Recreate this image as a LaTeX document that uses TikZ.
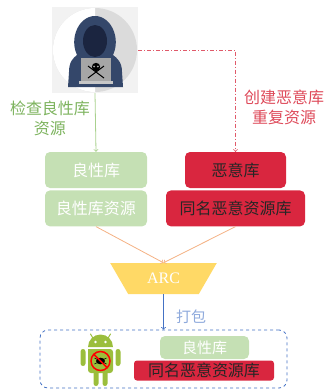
\documentclass[tikz,border=0pt]{standalone}
\usepackage{fontspec}
\setmainfont{Liberation Serif}
\newfontfamily\cjk{Noto Sans CJK SC}
\usetikzlibrary{positioning, arrows, shapes.geometric}

\definecolor{goodfill}{HTML}{C5E0B4}
\definecolor{goodline}{HTML}{A9D18E}
\definecolor{goodtext}{HTML}{7DB35E}
\definecolor{badfill}{HTML}{D9263F}
\definecolor{badline}{HTML}{E05A6A}
\definecolor{badtext}{HTML}{DE4A5A}
\definecolor{mergeline}{HTML}{F4B183}
\definecolor{arcfill}{HTML}{FFD966}
\definecolor{packline}{HTML}{4472C4}
\definecolor{packtext}{HTML}{8FAADC}
\definecolor{hoodcol}{HTML}{34476A}
\definecolor{facecol}{HTML}{1B2540}
\definecolor{droidcol}{HTML}{9BBE3C}

\begin{document}
\begin{tikzpicture}[x=1pt, y=-1pt,
    libbox/.style = {shape=rectangle, rounded corners=5pt, align=center,
    inner sep=0pt, font=\cjk\fontsize{16}{18}\selectfont},
    goodbox/.style = {libbox, fill=goodfill, text=white},
    badbox/.style = {libbox, fill=badfill, text=black!85},
    tag/.style = {align=center, font=\cjk\fontsize{16}{20}\selectfont},
    line/.style={draw, ->, line width=0.8pt}]

  \useasboundingbox (0,0) rectangle (327,389);

  % attacker
  \node[minimum size=86pt, inner sep=0pt, fill=black!5] (hacker) at (95,50) {};
  \begin{scope}[shift={(hacker.center)}]
    \fill[black!14] (0,0) circle[radius=42];
    \fill[white] (0,42) arc[start angle=90, end angle=270, radius=42] -- cycle;
    \fill[hoodcol] (-27,37) -- (-26,22) .. controls (-26,12) and (-22,8) .. (-18,5)
      .. controls (-26,-12) and (-16,-34) .. (0,-34)
      .. controls (16,-34) and (26,-12) .. (18,5)
      .. controls (22,8) and (27,12) .. (27,22) -- (28,37) -- cycle;
    \fill[facecol] (0,-9) ellipse[x radius=12, y radius=16];
    \fill[black!35] (-14,8) rectangle (16,31);
    \fill[black!22] (-16,31) rectangle (18,34);
    % skull and bones
    \draw[black, line width=1pt] (-7,16) -- (9,28) (9,16) -- (-7,28);
    \fill[black] (1,17) circle[radius=4.2];
    \fill[black!35] (-0.8,16.5) circle[radius=1] (2.8,16.5) circle[radius=1];
  \end{scope}

  % libraries
  \node[goodbox, minimum width=102pt, minimum height=36pt] (good) at (96,170) {良性库};
  \node[goodbox, minimum width=102pt, minimum height=36pt, below=2pt of good] (goodres) {良性库资源};
  \node[badbox, minimum width=101pt, minimum height=36pt] (bad) at (235.5,170) {恶意库};
  \node[badbox, minimum width=139pt, minimum height=36pt, below=2pt of bad] (badres) {同名恶意资源库};

  \node[tag, text=goodtext] (checktag) at (50,118) {检查良性库\\资源};
  \node[tag, text=badtext] (maketag) at (284,107) {创建恶意库\\重复资源};

  \draw[line, goodline] (hacker.south) -- (good.north);
  \draw[line, badline, dash pattern=on 4pt off 2pt on 1pt off 2pt]
    (hacker.east) -| (bad.north);

  % compiler
  \node[trapezium, shape border rotate=180, trapezium angle=60, fill=arcfill,
    trapezium stretches=true, minimum width=107pt, minimum height=31pt,
    text=white, font=\fontsize{16}{18}\selectfont] (arc) at (163.5,278.5) {ARC};

  \draw[line, mergeline] (goodres.south) -- (arc.north);
  \draw[line, mergeline] (badres.south) -- (arc.north);

  % package
  \node[draw=packline, dashed, rounded corners=8pt, line width=0.8pt,
    minimum width=247pt, minimum height=58pt] (apk) at (163.5,359) {};
  \draw[line, packline] (arc.south) -- (apk.north);
  \node[font=\cjk\fontsize{15}{18}\selectfont, text=packtext] (packtag) at (191,317) {打包};

  \node[goodbox, minimum width=89pt, minimum height=23pt,
    font=\cjk\fontsize{15}{18}\selectfont] (apkgood) at (204.5,347.5) {良性库};
  \node[badbox, minimum width=140pt, minimum height=20pt,
    rounded corners=3pt] (apkbad) at (204,370.5) {同名恶意资源库};

  % android
  \node[minimum width=42pt, minimum height=54pt, inner sep=0pt] (droid) at (100.5,360) {};
  \begin{scope}[shift={(droid.center)}, droidcol]
    \fill (-12.5,-13) arc[start angle=180, end angle=360, radius=12.5] -- cycle;
    \draw[line width=1pt, line cap=round] (-7,-21) -- (-10,-26) (7,-21) -- (10,-26);
    \fill[white] (-5,-18) circle[radius=1.3] (5,-18) circle[radius=1.3];
    \fill[rounded corners=3pt] (-12.5,-11) -- (-12.5,13) -- (12.5,13) -- (12.5,-11) [sharp corners] -- cycle;
    \fill[rounded corners=2.5pt] (-20,-11) rectangle (-15,6) (15,-11) rectangle (20,6);
    \fill[rounded corners=2.5pt] (-7,8) rectangle (-2,26) (2,8) rectangle (7,26);
    % bug under a ban sign
    \fill[black] (0,1) ellipse[x radius=4.5, y radius=3.3];
    \draw[black, line width=0.6pt] (-6,-2) -- (6,4) (-6,4) -- (6,-2);
    \draw[red, line width=1.5pt] (0,1) circle[radius=9.5] (-6.7,-5.7) -- (6.7,7.7);
  \end{scope}

\end{tikzpicture}
\end{document}
